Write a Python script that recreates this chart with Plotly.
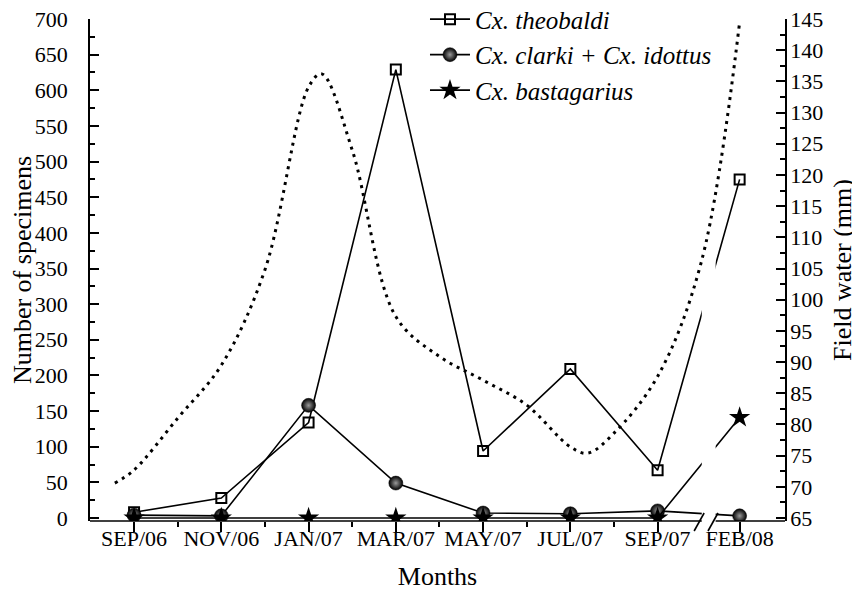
import plotly.graph_objects as go

# ---- data ----
months = ["SEP/06", "NOV/06", "JAN/07", "MAR/07", "MAY/07", "JUL/07", "SEP/07", "FEB/08"]
month_pos = [0, 1, 2, 3, 4, 5, 6, 6.94]          # FEB/08 sits after an axis break
theobaldi = [8, 28, 134, 629, 94, 209, 67, 475]
clarki_idottus = [4, 3, 158, 49, 7, 6, 10, 3]
bastagarius = [0, 0, 0, 0, 0, 0, 0, 141]

water_pos = [-0.22, 0, 0.5, 1, 1.5, 2, 2.15, 2.5, 3, 3.5, 4, 4.5, 5, 5.2, 5.5, 6, 6.5, 6.94]
water_mm = [70.6, 72.7, 81, 89.5, 104.8, 134.1, 136.2, 124, 97.3, 90.9, 87.1, 83.1, 76.4, 75.4, 78.6, 87.7, 106, 144.5]

break_lo, break_hi = 6.506, 6.665
x_range = [-0.505, 7.46]
y_range = [-4.2, 700]
y2_range = [64.52, 145]

FONT = "Liberation Serif"
TICK = 22
TITLE = 26

fig = go.Figure()

fig.add_trace(go.Scatter(
    x=month_pos, y=theobaldi, mode="lines+markers", name="<i>Cx. theobaldi</i>",
    line=dict(color="black", width=1.6),
    marker=dict(symbol="square-open", size=10, color="black", line=dict(width=2, color="black")),
))
fig.add_trace(go.Scatter(
    x=month_pos, y=clarki_idottus, mode="lines+markers", name="<i>Cx. clarki + Cx. idottus</i>",
    line=dict(color="black", width=1.6),
    marker=dict(symbol="circle", size=14, color="black",
                gradient=dict(type="radial", color="#9a9a9a"),
                line=dict(width=0.5, color="black")),
))
fig.add_trace(go.Scatter(
    x=month_pos, y=bastagarius, mode="lines+markers", name="<i>Cx. bastagarius</i>",
    line=dict(color="black", width=1.6),
    marker=dict(symbol="star", size=16, color="black", line=dict(width=0)),
))

# white mask producing the gap of the broken axis in the data lines
fig.add_trace(go.Scatter(
    x=[break_lo, break_hi, break_hi, break_lo, break_lo],
    y=[y_range[0], y_range[0], 420, 420, y_range[0]],
    mode="lines", fill="toself", fillcolor="white", line=dict(width=0, color="white"),
    hoverinfo="skip", showlegend=False,
))

fig.add_trace(go.Scatter(
    x=water_pos, y=water_mm, yaxis="y2", mode="lines", showlegend=False,
    line=dict(color="black", width=3, dash="3px,5px", shape="spline", smoothing=1.0),
))

shapes = [
    dict(type="line", xref="x", yref="paper", x0=x_range[0], x1=break_lo, y0=0, y1=0,
         line=dict(color="black", width=1.6)),
    dict(type="line", xref="x", yref="paper", x0=break_hi, x1=x_range[1], y0=0, y1=0,
         line=dict(color="black", width=1.6)),
]
for bx in (break_lo - 0.03, break_hi - 0.03):
    shapes.append(dict(type="line", xref="x", yref="paper", xsizemode="pixel", ysizemode="pixel",
                       xanchor=bx, yanchor=0, x0=-5, x1=5, y0=-10, y1=8,
                       line=dict(color="black", width=1.6)))

fig.update_layout(
    width=860, height=600,
    margin=dict(l=82, r=83, t=11, b=87, autoexpand=False),
    paper_bgcolor="white", plot_bgcolor="white",
    font=dict(family=FONT, size=TICK, color="black"),
    showlegend=True,
    legend=dict(x=0.482, y=1.045, xanchor="left", yanchor="top",
                font=dict(family=FONT, size=25), bgcolor="rgba(0,0,0,0)",
                itemwidth=40, tracegroupgap=0),
    xaxis=dict(range=x_range, tickvals=month_pos, ticktext=months,
               ticks="outside", ticklen=10, tickwidth=1.6, tickcolor="black",
               minor=dict(tickvals=[0.5, 1.5, 2.5, 3.5, 4.5, 5.5], ticks="outside",
                          ticklen=5, tickwidth=1.6, tickcolor="black"),
               showline=False, showgrid=False, zeroline=False, automargin=False,
               tickfont=dict(family=FONT, size=TICK), ticklabelstandoff=-12,
               title=dict(text="Months", font=dict(family=FONT, size=TITLE), standoff=16)),
    yaxis=dict(range=y_range, tickmode="linear", tick0=0, dtick=50,
               ticks="inside", ticklen=9, tickwidth=1.6, tickcolor="black",
               minor=dict(dtick=25, ticks="inside", ticklen=5, tickwidth=1.6, tickcolor="black"),
               showline=True, linecolor="black", linewidth=1.6,
               showgrid=False, zeroline=False, automargin=False, ticklabeloverflow="allow",
               tickfont=dict(family=FONT, size=TICK), ticklabelstandoff=16,
               title=dict(text="Number of specimens", font=dict(family=FONT, size=TITLE), standoff=2)),
    yaxis2=dict(range=y2_range, overlaying="y", side="right", tickmode="linear", tick0=65, dtick=5,
                ticks="inside", ticklen=9, tickwidth=1.6, tickcolor="black",
                minor=dict(dtick=2.5, ticks="inside", ticklen=5, tickwidth=1.6, tickcolor="black"),
                showline=True, linecolor="black", linewidth=1.6,
                showgrid=False, zeroline=False, automargin=False, ticklabeloverflow="allow",
                tickfont=dict(family=FONT, size=TICK), ticklabelstandoff=-1,
                title=dict(text="Field water (mm)", font=dict(family=FONT, size=TITLE), standoff=11)),
    shapes=shapes,
)

fig.write_html("out.html")
